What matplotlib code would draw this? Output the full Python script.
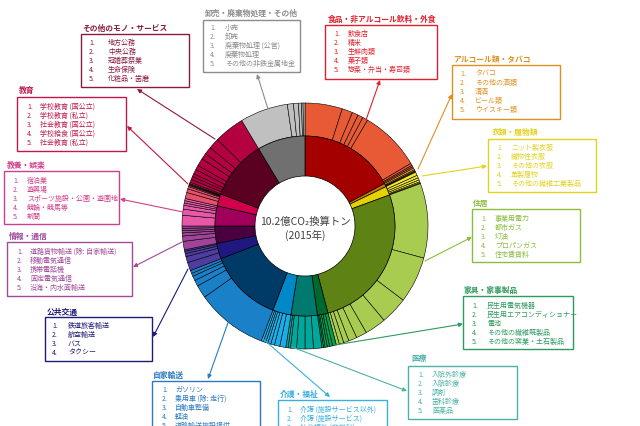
import matplotlib

matplotlib.use("Agg")
import matplotlib.pyplot as plt
from matplotlib.patches import Rectangle

plt.rcParams["font.family"] = ["Noto Sans CJK JP", "DejaVu Sans"]

W, H = 640, 427
CX, CY = 305, 227
R_OUT, R_MID, R_IN = 123, 90, 50

# categories clockwise from 12 o'clock
categories = [
    "食品・非アルコール飲料・外食", "アルコール類・タバコ", "衣類・履物類", "住居",
    "家具・家事製品", "医療", "介護・福祉", "自家輸送", "公共交通", "情報・通信",
    "教養・娯楽", "教育", "その他のモノ・サービス", "卸売・廃棄物処理・その他",
]

# outer ring: share of total (%) of each item, per category, clockwise
outer_food = [4.9, 1.4, 0.8, 0.7, 0.7, 8.0, 0.3, 0.2, 0.2]
outer_alcohol = [0.25, 0.15, 0.1, 0.1]
outer_clothing = [0.45, 0.35, 0.3, 0.25, 0.15, 0.1]
outer_housing = [9.8, 6.1, 3.6, 2.8, 1.4, 1.1, 0.7, 0.6, 0.4]
outer_furniture = [0.5, 0.4, 0.3, 0.3, 0.2, 0.2]
outer_medical = [1.1, 1.1, 1.1, 0.8, 0.3, 0.3]
outer_care = [0.8, 0.7, 0.5, 0.4, 0.3, 0.3, 0.3]
outer_car = [9.4, 1.7, 0.8, 0.6, 0.4, 0.4]
outer_public = [1.1, 0.8, 0.4, 0.3, 0.2]
outer_info = [1.1, 0.7, 0.4, 0.3, 0.3, 0.3]
outer_leisure = [1.4, 0.8, 0.5, 0.3, 0.3, 0.3]
outer_education = [0.8, 0.5, 0.3, 0.15, 0.1, 0.1, 0.1, 0.15]
outer_other = [0.4, 0.4, 0.4, 0.6, 0.6, 1.0, 0.8, 1.0, 1.4, 4.0]
outer_wholesale = [6.3, 0.8, 0.65, 0.4, 0.2, 0.25]

outer_values = [
    outer_food, outer_alcohol, outer_clothing, outer_housing, outer_furniture,
    outer_medical, outer_care, outer_car, outer_public, outer_info,
    outer_leisure, outer_education, outer_other, outer_wholesale,
]

top5 = [
    ["飲食店", "精米", "生鮮肉類", "菓子類", "惣菜・弁当・寿司類"],
    ["タバコ", "その他の酒類", "清酒", "ビール類", "ウイスキー類"],
    ["ニット製衣服", "織物性衣服", "その他の衣服", "革製履物", "その他の繊維工業製品"],
    ["事業用電力", "都市ガス", "灯油", "プロパンガス", "住宅賃貸料"],
    ["民生用電気機器", "民生用エアコンディショナー", "電池", "その他の繊維既製品", "その他の窯業・土石製品"],
    ["入院外診療", "入院診療", "調剤", "歯科診療", "医薬品"],
    ["介護 (施設サービス以外)", "介護 (施設サービス)", "社会福祉 (非営利)"],
    ["ガソリン", "乗用車 (除: 走行)", "自動車整備", "軽油", "道路輸送施設提供"],
    ["鉄道旅客輸送", "航空輸送", "バス", "タクシー"],
    ["道路貨物輸送 (除: 自家輸送)", "移動電気通信", "携帯電話機", "固定電気通信", "沿海・内水面輸送"],
    ["宿泊業", "遊興場", "スポーツ施設・公園・遊園地", "競輪・競馬等", "新聞"],
    ["学校教育 (国公立)", "学校教育 (私立)", "社会教育 (国公立)", "学校給食 (国公立)", "社会教育 (私立)"],
    ["地方公務", "中央公務", "冠婚葬祭業", "生命保険", "化粧品・歯磨"],
    ["小売", "卸売", "廃棄物処理 (公営)", "廃棄物処理", "その他の非鉄金属地金"],
]

inner_colors = ["#A50000", "#D07800", "#E6D200", "#5E8314", "#006A2E", "#007A6E", "#0088C8",
                "#003A66", "#1E1880", "#4A0040", "#A0005C", "#D0004A", "#5A0020", "#707070"]
outer_colors = ["#E85A35", "#E8A020", "#F2E830", "#A8CC50", "#00A050", "#00A89C", "#1AAEE8",
                "#1A80C8", "#4E3CA0", "#A0449A", "#E858A8", "#E8506A", "#B40040", "#C0C0C0"]
box_colors = ["#E0202E", "#E09020", "#E2D21E", "#8CBE3C", "#2E9A5E", "#4CB2A8", "#38B0E0",
              "#2A7AC0", "#1E1A78", "#A04A9A", "#D0408A", "#C0184A", "#8C1A40", "#8C8C8C"]

# label layout in pixels: title (x, y), box (x0, y0, x1, y1), number x, text x,
# first row y, arrow tail on ring, arrow head at box
layout = [
    ((328, 19), (325, 26, 437, 80), 334, 348, 34, (366, 121), (380, 81)),
    ((453, 59), (452, 66, 560, 120), 460, 475, 74, (418, 170), (452, 95)),
    ((492, 132), (488, 140, 596, 193), 497, 511, 148, (422, 177), (487, 167)),
    ((473, 203), (472, 210, 580, 263), 481, 495, 219, (425, 262), (472, 238)),
    ((464, 290), (463, 297, 573, 350), 472, 487, 306, (335, 346), (463, 325)),
    ((411, 359), (408, 367, 517, 420), 418, 432, 375, (292, 348), (407, 392)),
    ((280, 394), (278, 401, 387, 440), 287, 300, 410, (263, 340), (330, 398)),
    ((153, 375), (152, 382, 260, 440), 162, 175, 390, (230, 318), (208, 380)),
    ((47, 312), (45, 318, 152, 362), 52, 68, 326, (188, 270), (153, 338)),
    ((9, 236), (7, 243, 132, 297), 17, 30, 252, (182, 243), (133, 268)),
    ((7, 165), (4, 172, 119, 225), 13, 27, 181, (183, 213), (120, 200)),
    ((19, 90), (17, 98, 126, 152), 27, 40, 107, (188, 185), (127, 127)),
    ((82, 28), (81, 35, 189, 88), 89, 108, 43, (215, 140), (137, 90)),
    ((205, 13), (203, 21, 300, 73), 210, 225, 28, (268, 110), (257, 75)),
]


def Y(y):
    return H - y


fig = plt.figure(figsize=(6.4, 4.27), dpi=100)
ax = fig.add_axes([0, 0, 1, 1])

inner_values = [sum(v) for v in outer_values]
outer_flat, outer_cols = [], []
for vals, c in zip(outer_values, outer_colors):
    outer_flat += vals
    outer_cols += [c] * len(vals)

ax.pie(outer_flat, colors=outer_cols, radius=R_OUT, center=(CX, Y(CY)),
       startangle=90, counterclock=False,
       wedgeprops=dict(width=R_OUT - R_MID, edgecolor="black", linewidth=0.4))
ax.pie(inner_values, colors=inner_colors, radius=R_MID, center=(CX, Y(CY)),
       startangle=90, counterclock=False,
       wedgeprops=dict(width=R_MID - R_IN, edgecolor="black", linewidth=0.5))

ax.text(CX, Y(CY) + 5, "10.2億CO₂換算トン", ha="center", va="center",
        fontsize=7.5, color="#404040")
ax.text(CX, Y(CY) - 8, "(2015年)", ha="center", va="center",
        fontsize=7.5, color="#404040")

for name, items, col, lay in zip(categories, top5, box_colors, layout):
    (tx, ty), (x0, y0, x1, y1), nx, ix, ry, tail, head = lay
    ax.text(tx, Y(ty), name, ha="left", va="center", fontsize=5.6,
            fontweight="bold", color=col)
    ax.add_patch(Rectangle((x0, Y(y1)), x1 - x0, y1 - y0, fill=False,
                           edgecolor=col, linewidth=1.0))
    for i, it in enumerate(items):
        yy = Y(ry + i * 9)
        ax.text(nx, yy, f"{i + 1}.", ha="left", va="center", fontsize=5, color=col)
        ax.text(ix, yy, it, ha="left", va="center", fontsize=5, color=col)
    ax.annotate("", xy=(head[0], Y(head[1])), xytext=(tail[0], Y(tail[1])),
                arrowprops=dict(arrowstyle="-|>", color=col, lw=0.8,
                                mutation_scale=6, shrinkA=0, shrinkB=0))

ax.set_xlim(0, W)
ax.set_ylim(0, H)
ax.set_aspect("auto")
ax.axis("off")

fig.savefig("out.png", dpi=100)
